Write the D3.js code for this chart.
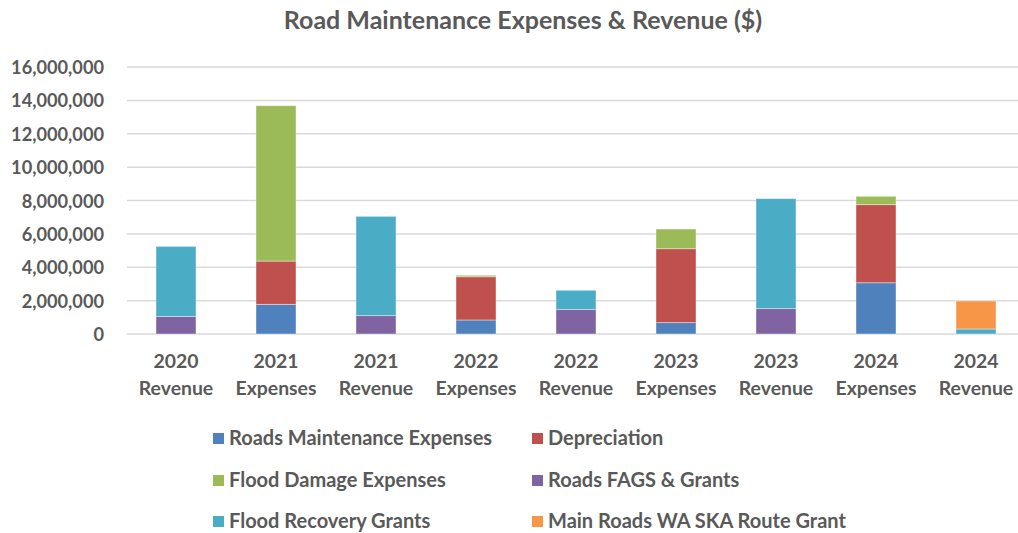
<!DOCTYPE html>
<html><head><meta charset="utf-8">
<script src="https://cdn.jsdelivr.net/npm/d3@7"></script>
<style>
html,body{margin:0;padding:0;background:#fff;}
text{font-family:Lato,"Open Sans",sans-serif;font-weight:bold;fill:#595959;}
</style></head>
<body><svg id="c" width="1018" height="533"></svg>
<script>
const categories = ["2020|Revenue","2021|Expenses","2021|Revenue","2022|Expenses","2022|Revenue","2023|Expenses","2023|Revenue","2024|Expenses","2024|Revenue"];
const seriesNames = ["Roads Maintenance Expenses","Depreciation","Flood Damage Expenses","Roads FAGS & Grants","Flood Recovery Grants","Main Roads WA SKA Route Grant"];
const seriesColors = ["#4F81BD","#C0504D","#9BBB59","#8064A2","#4BACC6","#F79646"];
const roadsMaintenance = [0,1780000,0,840000,0,680000,0,3070000,0];
const depreciation     = [0,2590000,0,2590000,0,4430000,0,4680000,0];
const floodDamage      = [0,9310000,0,90000,0,1180000,0,500000,0];
const roadsFAGS        = [1050000,0,1100000,0,1460000,0,1520000,0,0];
const floodRecovery    = [4200000,0,5950000,0,1160000,0,6590000,0,300000];
const mainRoadsSKA     = [0,0,0,0,0,0,0,0,1680000];
const yTicks = [0,2000000,4000000,6000000,8000000,10000000,12000000,14000000,16000000];
const title = "Road Maintenance Expenses & Revenue ($)";

const seriesValues = [roadsMaintenance,depreciation,floodDamage,roadsFAGS,floodRecovery,mainRoadsSKA];
const rows = categories.map((c,i)=>{const r={cat:c}; seriesNames.forEach((s,j)=>r[s]=seriesValues[j][i]); return r;});
const stacked = d3.stack().keys(seriesNames)(rows);

const svg = d3.select("#c");
const x = d3.scaleBand().domain(categories).range([126,1026]).paddingInner(0.6).paddingOuter(0.3);
const y = d3.scaleLinear().domain([0,16000000]).range([334,67]);

// gridlines
svg.append("g").selectAll("line").data(yTicks).join("line")
  .attr("x1",127).attr("x2",1018).attr("y1",d=>y(d)).attr("y2",d=>y(d))
  .attr("stroke","#d9d9d9").attr("stroke-width",1.5);

// y axis labels
const yAxis = d3.axisLeft(y).tickValues(yTicks).tickFormat(d3.format(",")).tickSize(0).tickPadding(0);
const ya = svg.append("g").attr("transform","translate(104,0)").call(yAxis);
ya.select(".domain").remove();
ya.selectAll("text").attr("font-size",18.2).attr("dy","0.36em").attr("fill","#595959")
  .style("font-family","Lato").style("font-weight","bold");

// bars
svg.append("g").selectAll("g").data(stacked).join("g")
  .attr("fill",(d,i)=>seriesColors[i])
  .selectAll("rect").data(d=>d).join("rect")
  .attr("x",d=>x(d.data.cat)).attr("width",x.bandwidth())
  .attr("y",d=>y(d[1])).attr("height",d=>Math.max(0,y(d[0])-y(d[1])))
  .attr("stroke","rgba(255,255,255,0.5)").attr("stroke-width",0.8);

// x axis labels
const xa = svg.append("g");
categories.forEach(c=>{
  const [a,b] = c.split("|");
  const cx = x(c)+x.bandwidth()/2;
  const t = xa.append("text").attr("text-anchor","middle").attr("font-size",19.4);
  t.append("tspan").attr("x",cx).attr("y",368).text(a);
  t.append("tspan").attr("x",cx).attr("y",395).text(b);
});

// title
svg.append("text").attr("x",523).attr("y",29).attr("text-anchor","middle").attr("font-size",25).text(title);

// legend
const lx = [213,532], ly = [438,480,521];
const lg = svg.append("g").selectAll("g").data(seriesNames).join("g")
  .attr("transform",(d,i)=>`translate(${lx[i%2]},${ly[Math.floor(i/2)]})`);
lg.append("rect").attr("x",0).attr("y",-5).attr("width",11).attr("height",11).attr("fill",(d,i)=>seriesColors[i]);
lg.append("text").attr("x",16).attr("y",0).attr("dy","0.36em").attr("font-size",20).text(d=>d);
</script></body></html>
